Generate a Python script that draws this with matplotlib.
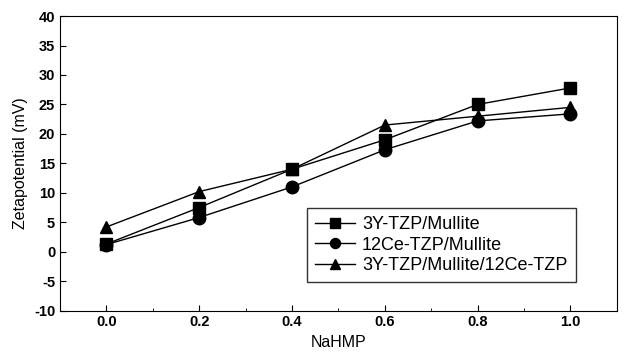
import numpy as np
import matplotlib.pyplot as plt

plt.rcParams['font.family'] = ['Liberation Sans', 'DejaVu Sans']
plt.rcParams['axes.unicode_minus'] = False

# NaHMP content and zeta potential (mV)
nahmp = [0.0, 0.2, 0.4, 0.6, 0.8, 1.0]
y_3y = [1.3, 7.5, 14.0, 19.0, 25.0, 27.8]
y_12ce = [1.2, 5.8, 11.0, 17.3, 22.2, 23.4]
y_mix = [4.2, 10.2, 14.0, 21.5, 23.0, 24.5]

fig, ax = plt.subplots(figsize=(6.25, 3.57), dpi=100)
fig.subplots_adjust(left=0.096, right=0.987, top=0.955, bottom=0.13)

kw = dict(color='black', lw=1.0, ms=9)
ax.plot(nahmp, y_3y, marker='s', label='3Y-TZP/Mullite', **kw)
ax.plot(nahmp, y_12ce, marker='o', label='12Ce-TZP/Mullite', **kw)
ax.plot(nahmp, y_mix, marker='^', label='3Y-TZP/Mullite/12Ce-TZP', **kw)

ax.set_xlim(-0.1, 1.1)
ax.set_ylim(-10, 40)
ax.set_xticks(nahmp)
ax.set_xticklabels(['0.0', '0.2', '0.4', '0.6', '0.8', '1.0'], fontweight='bold')
ax.set_xticks(np.arange(-0.1, 1.11, 0.1), minor=True)
ax.set_yticks(np.arange(-10, 41, 5))
ax.tick_params(axis='both', labelsize=10.5)
for t in ax.get_yticklabels():
    t.set_fontweight('bold')
ax.tick_params(direction='in', which='both', top=False, right=False)
ax.tick_params(which='major', length=4)
ax.tick_params(which='minor', length=2)

ax.set_xlabel('NaHMP', fontsize=11.5)
ax.set_ylabel('Zetapotential (mV)', fontsize=11.5)

leg = ax.legend(loc='lower right', bbox_to_anchor=(0.942, 0.065), fontsize=13,
                frameon=True, fancybox=False, edgecolor='black',
                handlelength=2.2, borderpad=0.45, labelspacing=0.2,
                handletextpad=0.4, markerscale=0.8)
leg.get_frame().set_linewidth(1.0)

plt.savefig('out.png')
